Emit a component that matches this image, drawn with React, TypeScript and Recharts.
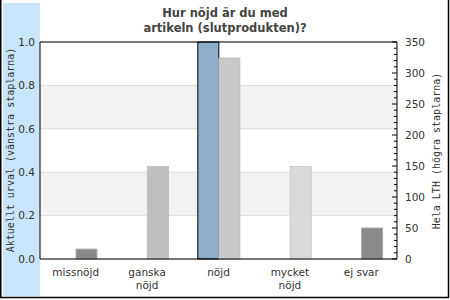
import React from 'react';
import { ComposedChart, Bar, Cell, XAxis, YAxis, CartesianGrid, ReferenceLine } from 'recharts';

const categories = ['missnöjd', 'ganska nöjd', 'nöjd', 'mycket nöjd', 'ej svar'];
const urvalValues = [0, 0, 1, 0, 0];
const lthValues = [16, 149, 324, 149, 50];
const lthFills = ['#8a8a8a', '#bebebe', '#c9c9c9', '#d9d9d9', '#8a8a8a'];
const lthStrokes = ['#b4b4b4', '#bebebe', '#bcbcbc', '#c8c8c8', '#a8a8a8'];
const leftTicks = [0, 0.2, 0.4, 0.6, 0.8, 1.0];
const rightMajorTicks = [0, 50, 100, 150, 200, 250, 300, 350];
const rightMinorStep = 10;

const titleLines = ['Hur nöjd är du med', 'artikeln (slutprodukten)?'];
const leftLabel = 'Aktuellt urval (vänstra staplarna)';
const rightLabel = 'Hela LTH (högra staplarna)';

const rightTicks: number[] = [];
for (let v = 0; v <= 350; v += rightMinorStep) rightTicks.push(v);

const data = categories.map((name, i) => ({
  name,
  urval: urvalValues[i],
  lth: lthValues[i],
}));

const FONT = '"DejaVu Sans", Verdana, sans-serif';
const MONO = '"DejaVu Sans Mono", monospace';

const XTick = (props: any) => {
  const { x, y, payload } = props;
  const lines = String(payload.value).split(' ');
  const parts = lines.length > 1 && payload.value !== 'ej svar' ? lines : [payload.value];
  return (
    <text x={x} y={y + 17} textAnchor="middle" fill="#333" fontSize={10.5} fontFamily={FONT}>
      {parts.map((p: string, i: number) => (
        <tspan key={i} x={x} dy={i === 0 ? 0 : 13}>{p}</tspan>
      ))}
    </text>
  );
};

const RightTick = (props: any) => {
  const { x, y, payload } = props;
  const major = rightMajorTicks.includes(payload.value);
  return (
    <g>
      <line x1={x - (major ? 5 : 3)} x2={x} y1={y} y2={y} stroke="#000" />
      {major && (
        <text x={x + 8} y={y} dy="0.355em" textAnchor="start" fill="#333" fontSize={10.5} fontFamily={FONT}>
          {payload.value}
        </text>
      )}
    </g>
  );
};

export default function App() {
  return (
    <div style={{ position: 'fixed', left: 0, top: 0, width: 450, height: 300, background: '#fff' }}>
      <svg width={450} height={300} style={{ position: 'absolute', left: 0, top: 0 }}>
        <rect x={3} y={3} width={37} height={293} fill="#c8e5fb" />
        <line x1={0.75} x2={0.75} y1={0} y2={298} stroke="#000" strokeWidth={1.5} />
        <line x1={448.5} x2={448.5} y1={0} y2={298} stroke="#000" strokeWidth={1.5} />
        <line x1={0} x2={449} y1={297.5} y2={297.5} stroke="#000" strokeWidth={1.5} />
      </svg>
      <ComposedChart
        width={450}
        height={300}
        data={data}
        margin={{ top: 42, right: 0, bottom: 0, left: 0 }}
        barGap={0}
        barSize={21}
        style={{ position: 'absolute', left: 0, top: 0 }}
      >
        <CartesianGrid
          yAxisId="l"
          vertical={false}
          stroke="#dddddd"
          horizontalFill={['#ffffff', '#f2f2f2']}
          fillOpacity={1}
        />
        <XAxis
          dataKey="name"
          height={41}
          interval={0}
          tickLine={false}
          tickSize={0}
          tickMargin={0}
          axisLine={{ stroke: '#000' }}
          tick={<XTick />}
        />
        <YAxis
          yAxisId="l"
          width={40}
          domain={[0, 1]}
          ticks={leftTicks}
          interval={0}
          tickFormatter={(v: number) => v.toFixed(1)}
          tickLine={false}
          tickSize={0}
          tickMargin={5}
          axisLine={{ stroke: '#000' }}
          tick={{ fill: '#333', fontSize: 10.5, fontFamily: FONT }}
        />
        <YAxis
          yAxisId="r"
          orientation="right"
          width={53}
          domain={[0, 350]}
          ticks={rightTicks}
          interval={0}
          tickLine={false}
          tickSize={0}
          tickMargin={0}
          axisLine={{ stroke: '#000' }}
          tick={<RightTick />}
        />
        <ReferenceLine yAxisId="l" y={1} stroke="#000" />
        <Bar yAxisId="l" dataKey="urval" fill="#8eaecb" stroke="#000" strokeWidth={1} isAnimationActive={false} />
        <Bar yAxisId="r" dataKey="lth" isAnimationActive={false}>
          {data.map((_, i) => (
            <Cell key={i} fill={lthFills[i]} stroke={lthStrokes[i]} />
          ))}
        </Bar>
      </ComposedChart>
      <svg width={450} height={300} style={{ position: 'absolute', left: 0, top: 0, pointerEvents: 'none' }}>
        <text x={225} y={17} textAnchor="middle" fill="#444" fontSize={11.5} fontWeight="bold" fontFamily={FONT}>
          {titleLines[0]}
        </text>
        <text x={225} y={32} textAnchor="middle" fill="#444" fontSize={11.5} fontWeight="bold" fontFamily={FONT}>
          {titleLines[1]}
        </text>
        <text
          x={0}
          y={0}
          transform="translate(10,150) rotate(-90)"
          textAnchor="middle"
          dy="0.355em"
          fill="#333"
          fontSize={10}
          fontFamily={MONO}
        >
          {leftLabel}
        </text>
        <text
          x={0}
          y={0}
          transform="translate(436,151) rotate(-90)"
          textAnchor="middle"
          dy="0.355em"
          fill="#333"
          fontSize={10}
          fontFamily={MONO}
        >
          {rightLabel}
        </text>
      </svg>
    </div>
  );
}
